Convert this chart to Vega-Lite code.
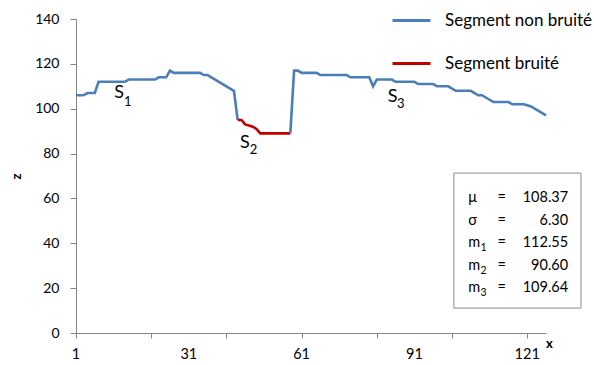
{
  "$schema": "https://vega.github.io/schema/vega-lite/v6.json",
  "width": 470,
  "height": 314,
  "autosize": {"type": "none"},
  "padding": {"left": 76, "top": 19, "right": 48, "bottom": 32},
  "background": "white",
  "config": {
    "view": {"stroke": null},
    "font": "Lato",
    "axis": {"grid": false, "domainColor": "#868686", "tickColor": "#868686", "labelColor": "#000000", "labelFont": "Lato", "labelFontSize": 14, "titleFont": "Lato", "titleFontSize": 13, "titleFontWeight": "bold", "titleColor": "#000000"},
    "axisX": {"labelOverlap": false, "labelSeparation": 0},
    "legend": {"labelFontSize": 17, "labelFont": "Lato", "labelColor": "#000000", "rowPadding": 14, "labelLimit": 300}
  },
  "datasets": {
    "series": [
      {"x":1,"z":106,"seg":"S1","type":"Segment non bruité"},
      {"x":2,"z":106,"seg":"S1","type":"Segment non bruité"},
      {"x":3,"z":106,"seg":"S1","type":"Segment non bruité"},
      {"x":4,"z":107,"seg":"S1","type":"Segment non bruité"},
      {"x":5,"z":107,"seg":"S1","type":"Segment non bruité"},
      {"x":6,"z":107,"seg":"S1","type":"Segment non bruité"},
      {"x":7,"z":112,"seg":"S1","type":"Segment non bruité"},
      {"x":8,"z":112,"seg":"S1","type":"Segment non bruité"},
      {"x":9,"z":112,"seg":"S1","type":"Segment non bruité"},
      {"x":10,"z":112,"seg":"S1","type":"Segment non bruité"},
      {"x":11,"z":112,"seg":"S1","type":"Segment non bruité"},
      {"x":12,"z":112,"seg":"S1","type":"Segment non bruité"},
      {"x":13,"z":112,"seg":"S1","type":"Segment non bruité"},
      {"x":14,"z":112,"seg":"S1","type":"Segment non bruité"},
      {"x":15,"z":113,"seg":"S1","type":"Segment non bruité"},
      {"x":16,"z":113,"seg":"S1","type":"Segment non bruité"},
      {"x":17,"z":113,"seg":"S1","type":"Segment non bruité"},
      {"x":18,"z":113,"seg":"S1","type":"Segment non bruité"},
      {"x":19,"z":113,"seg":"S1","type":"Segment non bruité"},
      {"x":20,"z":113,"seg":"S1","type":"Segment non bruité"},
      {"x":21,"z":113,"seg":"S1","type":"Segment non bruité"},
      {"x":22,"z":113,"seg":"S1","type":"Segment non bruité"},
      {"x":23,"z":114,"seg":"S1","type":"Segment non bruité"},
      {"x":24,"z":114,"seg":"S1","type":"Segment non bruité"},
      {"x":25,"z":114,"seg":"S1","type":"Segment non bruité"},
      {"x":26,"z":117,"seg":"S1","type":"Segment non bruité"},
      {"x":27,"z":116,"seg":"S1","type":"Segment non bruité"},
      {"x":28,"z":116,"seg":"S1","type":"Segment non bruité"},
      {"x":29,"z":116,"seg":"S1","type":"Segment non bruité"},
      {"x":30,"z":116,"seg":"S1","type":"Segment non bruité"},
      {"x":31,"z":116,"seg":"S1","type":"Segment non bruité"},
      {"x":32,"z":116,"seg":"S1","type":"Segment non bruité"},
      {"x":33,"z":116,"seg":"S1","type":"Segment non bruité"},
      {"x":34,"z":116,"seg":"S1","type":"Segment non bruité"},
      {"x":35,"z":115,"seg":"S1","type":"Segment non bruité"},
      {"x":36,"z":115,"seg":"S1","type":"Segment non bruité"},
      {"x":37,"z":114,"seg":"S1","type":"Segment non bruité"},
      {"x":38,"z":113,"seg":"S1","type":"Segment non bruité"},
      {"x":39,"z":112,"seg":"S1","type":"Segment non bruité"},
      {"x":40,"z":111,"seg":"S1","type":"Segment non bruité"},
      {"x":41,"z":110,"seg":"S1","type":"Segment non bruité"},
      {"x":42,"z":109,"seg":"S1","type":"Segment non bruité"},
      {"x":43,"z":108,"seg":"S1","type":"Segment non bruité"},
      {"x":44,"z":95,"seg":"S1","type":"Segment non bruité"},
      {"x":44,"z":95,"seg":"S2","type":"Segment bruité"},
      {"x":45,"z":95,"seg":"S2","type":"Segment bruité"},
      {"x":46,"z":93,"seg":"S2","type":"Segment bruité"},
      {"x":47,"z":92.5,"seg":"S2","type":"Segment bruité"},
      {"x":48,"z":92,"seg":"S2","type":"Segment bruité"},
      {"x":49,"z":91,"seg":"S2","type":"Segment bruité"},
      {"x":50,"z":89,"seg":"S2","type":"Segment bruité"},
      {"x":51,"z":89,"seg":"S2","type":"Segment bruité"},
      {"x":52,"z":89,"seg":"S2","type":"Segment bruité"},
      {"x":53,"z":89,"seg":"S2","type":"Segment bruité"},
      {"x":54,"z":89,"seg":"S2","type":"Segment bruité"},
      {"x":55,"z":89,"seg":"S2","type":"Segment bruité"},
      {"x":56,"z":89,"seg":"S2","type":"Segment bruité"},
      {"x":57,"z":89,"seg":"S2","type":"Segment bruité"},
      {"x":58,"z":89,"seg":"S2","type":"Segment bruité"},
      {"x":58,"z":89,"seg":"S3","type":"Segment non bruité"},
      {"x":59,"z":117,"seg":"S3","type":"Segment non bruité"},
      {"x":60,"z":117,"seg":"S3","type":"Segment non bruité"},
      {"x":61,"z":116,"seg":"S3","type":"Segment non bruité"},
      {"x":62,"z":116,"seg":"S3","type":"Segment non bruité"},
      {"x":63,"z":116,"seg":"S3","type":"Segment non bruité"},
      {"x":64,"z":116,"seg":"S3","type":"Segment non bruité"},
      {"x":65,"z":116,"seg":"S3","type":"Segment non bruité"},
      {"x":66,"z":115,"seg":"S3","type":"Segment non bruité"},
      {"x":67,"z":115,"seg":"S3","type":"Segment non bruité"},
      {"x":68,"z":115,"seg":"S3","type":"Segment non bruité"},
      {"x":69,"z":115,"seg":"S3","type":"Segment non bruité"},
      {"x":70,"z":115,"seg":"S3","type":"Segment non bruité"},
      {"x":71,"z":115,"seg":"S3","type":"Segment non bruité"},
      {"x":72,"z":115,"seg":"S3","type":"Segment non bruité"},
      {"x":73,"z":115,"seg":"S3","type":"Segment non bruité"},
      {"x":74,"z":114,"seg":"S3","type":"Segment non bruité"},
      {"x":75,"z":114,"seg":"S3","type":"Segment non bruité"},
      {"x":76,"z":114,"seg":"S3","type":"Segment non bruité"},
      {"x":77,"z":114,"seg":"S3","type":"Segment non bruité"},
      {"x":78,"z":114,"seg":"S3","type":"Segment non bruité"},
      {"x":79,"z":114,"seg":"S3","type":"Segment non bruité"},
      {"x":80,"z":110,"seg":"S3","type":"Segment non bruité"},
      {"x":81,"z":113,"seg":"S3","type":"Segment non bruité"},
      {"x":82,"z":113,"seg":"S3","type":"Segment non bruité"},
      {"x":83,"z":113,"seg":"S3","type":"Segment non bruité"},
      {"x":84,"z":113,"seg":"S3","type":"Segment non bruité"},
      {"x":85,"z":113,"seg":"S3","type":"Segment non bruité"},
      {"x":86,"z":112,"seg":"S3","type":"Segment non bruité"},
      {"x":87,"z":112,"seg":"S3","type":"Segment non bruité"},
      {"x":88,"z":112,"seg":"S3","type":"Segment non bruité"},
      {"x":89,"z":112,"seg":"S3","type":"Segment non bruité"},
      {"x":90,"z":112,"seg":"S3","type":"Segment non bruité"},
      {"x":91,"z":112,"seg":"S3","type":"Segment non bruité"},
      {"x":92,"z":111,"seg":"S3","type":"Segment non bruité"},
      {"x":93,"z":111,"seg":"S3","type":"Segment non bruité"},
      {"x":94,"z":111,"seg":"S3","type":"Segment non bruité"},
      {"x":95,"z":111,"seg":"S3","type":"Segment non bruité"},
      {"x":96,"z":111,"seg":"S3","type":"Segment non bruité"},
      {"x":97,"z":110,"seg":"S3","type":"Segment non bruité"},
      {"x":98,"z":110,"seg":"S3","type":"Segment non bruité"},
      {"x":99,"z":110,"seg":"S3","type":"Segment non bruité"},
      {"x":100,"z":110,"seg":"S3","type":"Segment non bruité"},
      {"x":101,"z":109,"seg":"S3","type":"Segment non bruité"},
      {"x":102,"z":108,"seg":"S3","type":"Segment non bruité"},
      {"x":103,"z":108,"seg":"S3","type":"Segment non bruité"},
      {"x":104,"z":108,"seg":"S3","type":"Segment non bruité"},
      {"x":105,"z":108,"seg":"S3","type":"Segment non bruité"},
      {"x":106,"z":108,"seg":"S3","type":"Segment non bruité"},
      {"x":107,"z":107,"seg":"S3","type":"Segment non bruité"},
      {"x":108,"z":106,"seg":"S3","type":"Segment non bruité"},
      {"x":109,"z":106,"seg":"S3","type":"Segment non bruité"},
      {"x":110,"z":105,"seg":"S3","type":"Segment non bruité"},
      {"x":111,"z":104,"seg":"S3","type":"Segment non bruité"},
      {"x":112,"z":103,"seg":"S3","type":"Segment non bruité"},
      {"x":113,"z":103,"seg":"S3","type":"Segment non bruité"},
      {"x":114,"z":103,"seg":"S3","type":"Segment non bruité"},
      {"x":115,"z":103,"seg":"S3","type":"Segment non bruité"},
      {"x":116,"z":103,"seg":"S3","type":"Segment non bruité"},
      {"x":117,"z":102,"seg":"S3","type":"Segment non bruité"},
      {"x":118,"z":102,"seg":"S3","type":"Segment non bruité"},
      {"x":119,"z":102,"seg":"S3","type":"Segment non bruité"},
      {"x":120,"z":102,"seg":"S3","type":"Segment non bruité"},
      {"x":121,"z":101.5,"seg":"S3","type":"Segment non bruité"},
      {"x":122,"z":101,"seg":"S3","type":"Segment non bruité"},
      {"x":123,"z":100,"seg":"S3","type":"Segment non bruité"},
      {"x":124,"z":99,"seg":"S3","type":"Segment non bruité"},
      {"x":125,"z":98,"seg":"S3","type":"Segment non bruité"},
      {"x":126,"z":97,"seg":"S3","type":"Segment non bruité"}
    ],
    "labels": [
      {"main":"S","sub":"1","x":12.5,"z":106.8,"xs":14.75,"zs":103.0},
      {"main":"S","sub":"2","x":45.9,"z":84.8,"xs":48.2,"zs":81.8},
      {"main":"S","sub":"3","x":85.2,"z":105.3,"xs":87.4,"zs":102.3}
    ],
    "box": [{"x":101.5,"x2":135.3,"z":71.3,"z2":11.1}],
    "stats": [
      {"sym":"μ","sub":"","val":"108.37","z":60},
      {"sym":"σ","sub":"","val":"6.30","z":50},
      {"sym":"m","sub":"1","val":"112.55","z":40},
      {"sym":"m","sub":"2","val":"90.60","z":30},
      {"sym":"m","sub":"3","val":"109.64","z":20}
    ],
    "xticks": [
      {"x":1,"lab":"1"},{"x":31,"lab":"31"},{"x":61,"lab":"61"},{"x":91,"lab":"91"},{"x":121,"lab":"121"}
    ]
  },
  "layer": [
    {
      "data": {"name": "series"},
      "mark": {"type": "line", "strokeWidth": 2.6, "clip": false},
      "encoding": {
        "x": {"field": "x", "type": "quantitative",
          "scale": {"domain": [1, 126], "nice": false, "zero": false},
          "axis": {"values": [1,11,21,31,41,51,61,71,81,91,101,111,121], "labels": false, "tickSize": 5, "title": "x", "titleX": 473, "titleY": 10, "titleAlign": "center", "titleBaseline": "middle"}},
        "y": {"field": "z", "type": "quantitative",
          "scale": {"domain": [0, 140], "nice": false},
          "axis": {"values": [0,20,40,60,80,100,120,140], "tickSize": 6, "labelPadding": 11, "title": "z", "titleX": -60, "titleY": 157, "titleAlign": "center", "titleBaseline": "middle"}},
        "detail": {"field": "seg"},
        "color": {"field": "type", "type": "nominal",
          "scale": {"domain": ["Segment non bruité", "Segment bruité"], "range": ["#4A7EBB", "#C00000"]},
          "legend": {"orient": "none", "legendX": 315, "legendY": -19, "direction": "vertical", "title": null, "symbolType": "stroke", "symbolSize": 1444, "symbolStrokeWidth": 3, "labelFontSize": 17, "labelOffset": 13, "rowPadding": 14, "labelLimit": 300}},
        "order": {"field": "x"}
      }
    },
    {
      "data": {"name": "xticks"},
      "mark": {"type": "text", "fontSize": 14.5, "font": "Lato", "align": "center", "baseline": "top", "dy": 15, "color": "#000000", "clip": false},
      "encoding": {"x": {"field": "x", "type": "quantitative"}, "y": {"datum": 0, "type": "quantitative"}, "text": {"field": "lab"}}
    },
    {
      "data": {"name": "labels"},
      "mark": {"type": "text", "fontSize": 18, "font": "Lato", "align": "center", "baseline": "middle", "color": "#000000"},
      "encoding": {"x": {"field": "x", "type": "quantitative"}, "y": {"field": "z", "type": "quantitative"}, "text": {"field": "main"}}
    },
    {
      "data": {"name": "labels"},
      "mark": {"type": "text", "fontSize": 13, "font": "Lato", "align": "center", "baseline": "middle", "color": "#000000"},
      "encoding": {"x": {"field": "xs", "type": "quantitative"}, "y": {"field": "zs", "type": "quantitative"}, "text": {"field": "sub"}}
    },
    {
      "data": {"name": "box"},
      "mark": {"type": "rect", "fill": "white", "stroke": "#8C8C8C", "strokeWidth": 1, "clip": false},
      "encoding": {"x": {"field": "x", "type": "quantitative"}, "x2": {"field": "x2"}, "y": {"field": "z", "type": "quantitative"}, "y2": {"field": "z2"}}
    },
    {
      "data": {"name": "stats"},
      "mark": {"type": "text", "fontSize": 14.5, "font": "Lato", "align": "left", "baseline": "middle", "color": "#000000"},
      "encoding": {"x": {"datum": 105.3, "type": "quantitative"}, "y": {"field": "z", "type": "quantitative"}, "text": {"field": "sym"}}
    },
    {
      "data": {"name": "stats"},
      "mark": {"type": "text", "fontSize": 10.5, "font": "Lato", "align": "center", "baseline": "middle", "dy": 5, "color": "#000000"},
      "encoding": {"x": {"datum": 109.4, "type": "quantitative"}, "y": {"field": "z", "type": "quantitative"}, "text": {"field": "sub"}}
    },
    {
      "data": {"name": "stats"},
      "mark": {"type": "text", "fontSize": 14.5, "font": "Lato", "align": "center", "baseline": "middle", "color": "#000000", "text": "="},
      "encoding": {"x": {"datum": 114.2, "type": "quantitative"}, "y": {"field": "z", "type": "quantitative"}}
    },
    {
      "data": {"name": "stats"},
      "mark": {"type": "text", "fontSize": 14.5, "font": "Lato", "align": "right", "baseline": "middle", "color": "#000000"},
      "encoding": {"x": {"datum": 131.9, "type": "quantitative"}, "y": {"field": "z", "type": "quantitative"}, "text": {"field": "val"}}
    }
  ]
}
